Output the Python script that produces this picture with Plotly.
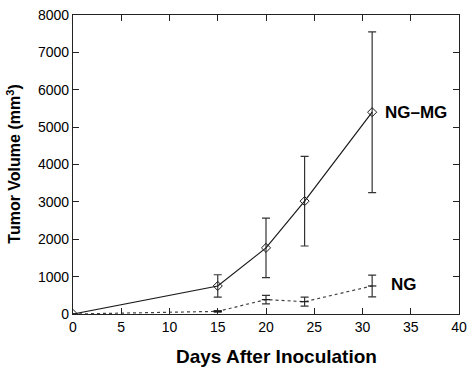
import plotly.graph_objects as go

days = [0, 15, 20, 24, 31]
ngmg_vol = [0, 750, 1770, 3020, 5400]
ngmg_err = [0, 300, 795, 1200, 2150]
ng_vol = [0, 70, 385, 330, 750]
ng_err = [0, 20, 115, 120, 290]

x_ticks = [0, 5, 10, 15, 20, 25, 30, 35, 40]
y_ticks = [0, 1000, 2000, 3000, 4000, 5000, 6000, 7000, 8000]

font_family = "Liberation Sans, Arial, sans-serif"

fig = go.Figure()
fig.add_trace(go.Scatter(
    x=days, y=ngmg_vol, mode="lines+markers", name="NG-MG",
    line=dict(color="#1a1a1a", width=1.2),
    marker=dict(symbol="diamond-open", size=7, color="#1a1a1a", line=dict(width=1)),
    error_y=dict(type="data", array=ngmg_err, visible=True, color="#333333", thickness=1.2, width=4),
))
fig.add_trace(go.Scatter(
    x=days, y=ng_vol, mode="lines+markers", name="NG",
    line=dict(color="#444444", width=1.2, dash="dot"),
    marker=dict(symbol="line-ew-open", size=6, color="#1a1a1a", line=dict(width=1.2)),
    error_y=dict(type="data", array=ng_err, visible=True, color="#333333", thickness=1.2, width=4),
))

fig.add_annotation(x=35.5, y=5400, text="<b>NG\u2013MG</b>", showarrow=False,
                   font=dict(size=17, color="black", family=font_family))
fig.add_annotation(x=34.3, y=800, text="<b>NG</b>", showarrow=False,
                   font=dict(size=17, color="black", family=font_family))

# axis titles placed as paper annotations
fig.add_annotation(xref="paper", yref="paper", x=0.527, y=-0.143, xanchor="center", yanchor="middle",
                   text="<b>Days After Inoculation</b>", showarrow=False,
                   font=dict(size=19, color="black", family=font_family))
fig.add_annotation(xref="paper", yref="paper", x=-0.155, y=0.5, xanchor="center", yanchor="middle",
                   textangle=-90, text="<b>Tumor Volume (mm<sup>3</sup>)</b>", showarrow=False,
                   font=dict(size=16, color="black", family=font_family))

axis_common = dict(
    showline=True, linecolor="#222222", linewidth=1.2, mirror="ticks",
    ticks="inside", ticklen=6, tickcolor="#222222", tickwidth=1,
    showgrid=False, zeroline=False, ticklabeloverflow="allow",
    tickfont=dict(size=14, color="black", family=font_family),
)

fig.update_layout(
    width=474, height=369,
    margin=dict(l=73, r=8, t=7, b=55),
    paper_bgcolor="white", plot_bgcolor="white",
    showlegend=False,
    font=dict(family=font_family, color="black"),
    xaxis=dict(range=[0, 40], tickvals=x_ticks, **axis_common),
    yaxis=dict(range=[0, 8000], tickvals=y_ticks, **axis_common),
)

fig.write_html("out.html", config={"displayModeBar": False},
               post_script="document.body.style.margin='0';")
